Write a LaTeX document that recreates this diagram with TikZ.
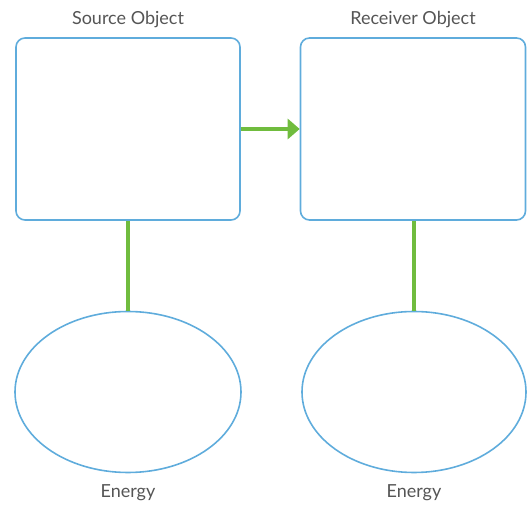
\documentclass[tikz,border=0pt]{standalone}
\usepackage{fontspec}
\setmainfont{Lato}
\usetikzlibrary{shapes.geometric,arrows.meta}
\definecolor{boxblue}{RGB}{95,172,220}
\definecolor{linkgreen}{RGB}{112,188,62}
\definecolor{labelgray}{RGB}{85,85,85}
\tikzset{
    objbox/.style={draw=boxblue, line width=1.6pt, rounded corners=9pt, minimum width=224pt, minimum height=182pt},
    energyring/.style={draw=boxblue, line width=1.6pt, ellipse, minimum width=226pt, minimum height=161pt},
    tag/.style={text=labelgray, font=\fontsize{18}{21}\selectfont},
    link/.style={draw=linkgreen, line width=3.5pt}
}
\begin{document}
\begin{tikzpicture}[x=1pt,y=1pt]
    \useasboundingbox (0,0) rectangle (528,506);
    % objects
    \node[objbox] (source) at (128,377) {};
    \node[objbox, minimum width=225pt] (receiver) at (413,377) {};
    % energy
    \node[energyring] (esource) at (128,114) {};
    \node[energyring, minimum width=224pt] (ereceiver) at (414,114) {};
    % labels
    \node[tag] (lsource) at (128,486) {Source Object};
    \node[tag] (lreceiver) at (413,486) {Receiver Object};
    \node[tag] (lesource) at (128,13) {Energy};
    \node[tag] (lereceiver) at (414,13) {Energy};
    % links
    \draw[link, -{Triangle[length=12pt,width=20pt]}] (source.east) -- (receiver.west);
    \draw[link] (source.south) -- (esource.north);
    \draw[link] (receiver.south -| ereceiver.north) -- (ereceiver.north);
\end{tikzpicture}
\end{document}
